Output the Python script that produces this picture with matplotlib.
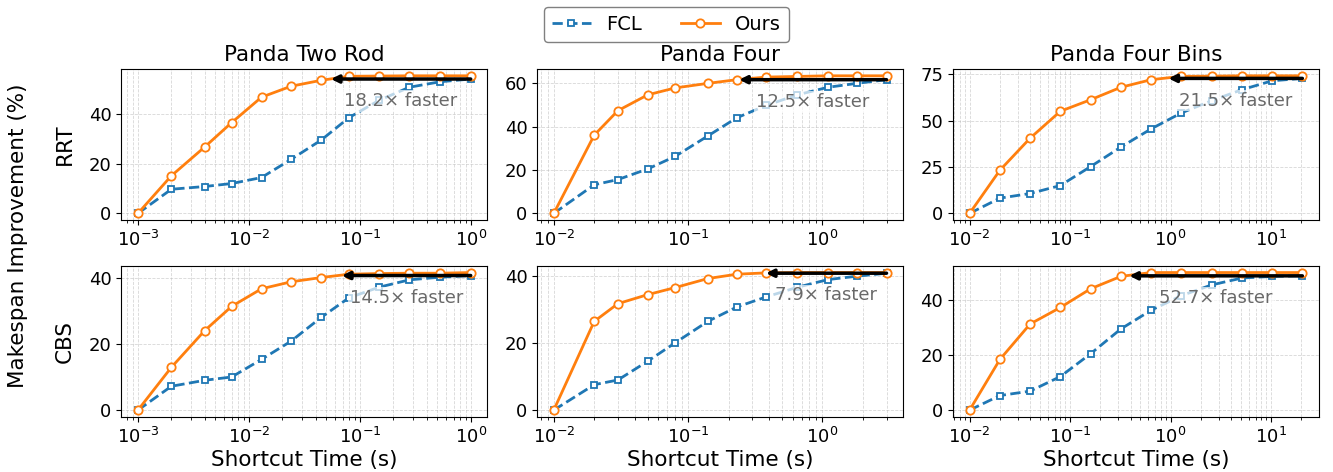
import numpy as np
import matplotlib.pyplot as plt

# shortcut time budgets (s) per environment
t_two_rod = [0.001, 0.002, 0.004, 0.007, 0.013, 0.024, 0.045, 0.08, 0.15, 0.28, 0.53, 1.0]
t_four = [0.01, 0.02, 0.03, 0.05, 0.08, 0.14, 0.23, 0.38, 0.65, 1.1, 1.8, 3.0]
t_bins = [0.01, 0.02, 0.04, 0.08, 0.16, 0.32, 0.64, 1.28, 2.56, 5.12, 10.24, 20.48]

envs = ["Panda Two Rod", "Panda Four", "Panda Four Bins"]
planners = ["RRT", "CBS"]

# makespan improvement (%)
fcl_rrt_two_rod = [0, 9.7, 10.8, 12.0, 14.4, 21.7, 29.5, 38.5, 45.5, 50.7, 52.9, 54.0]
ours_rrt_two_rod = [0, 15.1, 26.7, 36.5, 46.7, 51.1, 53.5, 55.1, 55.2, 55.3, 55.3, 55.3]
fcl_rrt_four = [0, 13.2, 15.6, 20.5, 26.3, 35.7, 44.1, 49.8, 54.7, 58.2, 60.0, 61.7]
ours_rrt_four = [0, 36.1, 47.4, 54.7, 57.9, 60.0, 61.7, 62.9, 63.2, 63.5, 63.5, 63.5]
fcl_rrt_bins = [0, 8.2, 10.7, 15.0, 25.2, 35.7, 45.5, 54.1, 60.7, 66.6, 71.4, 72.7]
ours_rrt_bins = [0, 23.2, 40.5, 55.0, 61.2, 67.9, 72.0, 73.8, 73.9, 74.1, 74.1, 74.1]

fcl_cbs_two_rod = [0, 7.2, 9.0, 10.0, 15.3, 20.8, 28.0, 33.9, 37.1, 39.3, 40.1, 40.6]
ours_cbs_two_rod = [0, 12.9, 24.0, 31.3, 36.6, 38.7, 40.0, 41.0, 41.2, 41.3, 41.3, 41.5]
fcl_cbs_four = [0, 7.6, 9.0, 14.6, 20.1, 26.5, 30.8, 33.8, 36.7, 39.0, 40.0, 40.9]
ours_cbs_four = [0, 26.5, 31.8, 34.5, 36.6, 39.3, 40.6, 41.0, 41.1, 41.1, 41.1, 41.1]
fcl_cbs_bins = [0, 5.3, 6.9, 12.2, 20.5, 29.5, 36.3, 41.6, 45.5, 48.0, 48.6, 48.8]
ours_cbs_bins = [0, 18.4, 31.3, 37.3, 44.1, 48.6, 50.0, 50.0, 50.0, 50.0, 50.0, 50.0]

speedups = [[18.2, 12.5, 21.5], [14.5, 7.9, 52.7]]

times = [t_two_rod, t_four, t_bins]
fcl = [[fcl_rrt_two_rod, fcl_rrt_four, fcl_rrt_bins],
       [fcl_cbs_two_rod, fcl_cbs_four, fcl_cbs_bins]]
ours = [[ours_rrt_two_rod, ours_rrt_four, ours_rrt_bins],
        [ours_cbs_two_rod, ours_cbs_four, ours_cbs_bins]]

fig, axs = plt.subplots(2, 3, figsize=(13.33, 4.72), dpi=100)
fig.subplots_adjust(left=0.091, right=0.9895, top=0.854, bottom=0.1165,
                    hspace=0.30, wspace=0.136)

for r in range(2):
    for c in range(3):
        ax = axs[r, c]
        t = times[c]
        ax.plot(t, fcl[r][c], linestyle='--', color='#1f77b4', lw=2,
                marker='s', ms=5, mfc='white', mew=1.3, label='FCL')
        ax.plot(t, ours[r][c], linestyle='-', color='#ff7f0e', lw=2,
                marker='o', ms=6, mfc='white', mew=1.3, label='Ours')
        ax.set_xscale('log')
        ax.grid(True, which='both', linestyle='--', linewidth=0.6, alpha=0.5)

        # arrow: time Ours needs to match FCL's final result
        y_end = fcl[r][c][-1]
        x_end = t[-1]
        x_head = x_end / speedups[r][c]
        ax.annotate('', xy=(x_head, y_end), xytext=(x_end, y_end),
                    arrowprops=dict(arrowstyle='-|>', color='black', lw=2.5,
                                    mutation_scale=11, shrinkA=0, shrinkB=0))
        x_mid = np.sqrt(x_head * x_end)
        ax.annotate(f'{speedups[r][c]}× faster', xy=(x_mid, y_end),
                    xytext=(0, -16), textcoords='offset points',
                    ha='center', va='center', fontsize=13, color='dimgray',
                    bbox=dict(boxstyle='square,pad=0.1', fc='white', ec='none', alpha=0.7))

        ax.tick_params(labelsize=13)
        if r == 0:
            ax.set_title(envs[c], fontsize=15.5)
        else:
            ax.set_xlabel('Shortcut Time (s)', fontsize=15.5, labelpad=2)
        if c == 0:
            ax.set_ylabel(planners[r], fontsize=15.5, labelpad=10)

fig.supylabel('Makespan Improvement (%)', fontsize=15.5, x=0.006)

handles, labels = axs[0, 0].get_legend_handles_labels()
fig.legend(handles, labels, loc='upper center', ncol=2, fontsize=14,
           bbox_to_anchor=(0.5, 1.005), framealpha=1, edgecolor='gray')

fig.savefig('out.png', dpi=100)
